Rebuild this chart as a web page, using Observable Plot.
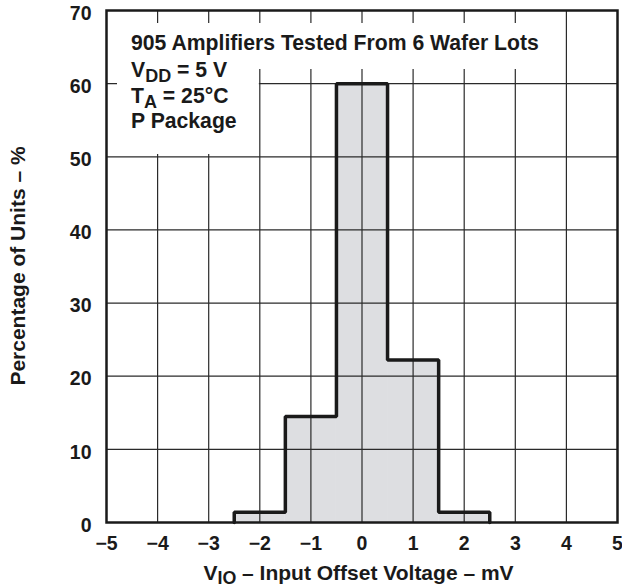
<!DOCTYPE html>
<html><head><meta charset="utf-8">
<script src="https://cdn.jsdelivr.net/npm/d3@7"></script>
<script src="https://cdn.jsdelivr.net/npm/@observablehq/plot@0.6"></script>
<style>body{margin:0;background:#fff} svg{display:block}</style>
</head><body><div id="chart"></div>
<script>
// ---- data ----
const binEdges = [-2.5, -1.5, -0.5, 0.5, 1.5, 2.5];
const percentUnits = [1.4, 14.5, 60, 22.2, 1.4];
const xTicks = [-5, -4, -3, -2, -1, 0, 1, 2, 3, 4, 5];
const yTicks = [0, 10, 20, 30, 40, 50, 60, 70];
const noteLines = [
  [{t: "905 Amplifiers Tested From 6 Wafer Lots"}],
  [{t: "V"}, {t: "DD", sub: true}, {t: " = 5 V"}],
  [{t: "T"}, {t: "A", sub: true}, {t: " = 25°C"}],
  [{t: "P Package"}]
];
const xLabel = [{t: "V"}, {t: "IO", sub: true}, {t: " – Input Offset Voltage – mV"}];
const yLabel = "Percentage of Units – %";

// ---- derived tables ----
const bins = percentUnits.map((p, i) => ({x1: binEdges[i], x2: binEdges[i + 1], y: p}));
const outline = [{x: binEdges[0], y: 0}, ...bins.map(b => ({x: b.x1, y: b.y})), {x: binEdges[binEdges.length - 1], y: 0}];

const FONT = "'Liberation Sans', Arial, Helvetica, sans-serif";
const INK = "#1a1a1a";
const fmt = d => d < 0 ? "\u2212" + Math.abs(d) : String(d);

const chart = Plot.plot({
  width: 622, height: 587,
  marginLeft: 106, marginRight: 5, marginTop: 10, marginBottom: 65,
  style: {fontFamily: FONT, fontSize: "19.5px", fontWeight: "bold", color: INK, background: "#fff"},
  x: {domain: [-5, 5]},
  y: {domain: [0, 70]},
  marks: [
    Plot.rectY(bins, {x1: "x1", x2: "x2", y: "y", fill: "#dddee1"}),
    Plot.ruleX(xTicks.slice(1, -1), {stroke: "#2a2a2a", strokeWidth: 1.2}),
    Plot.ruleY(yTicks.slice(1, -1), {stroke: "#2a2a2a", strokeWidth: 1.2}),
    Plot.line(outline, {x: "x", y: "y", curve: "step-after", stroke: INK, strokeWidth: 3.5, strokeLinejoin: "miter"}),
    Plot.frame({stroke: INK, strokeWidth: 2.5}),
    Plot.axisX(xTicks, {tickSize: 0, tickPadding: 14, label: null, tickFormat: fmt, fill: INK}),
    Plot.axisY(yTicks, {tickSize: 0, tickPadding: 15, label: null, tickFormat: fmt, dy: 3, fill: INK})
  ]
});
document.getElementById("chart").appendChild(chart);

const svg = d3.select(chart);
const sx = chart.scale("x"), sy = chart.scale("y");

function writeRich(textSel, parts, shift) {
  parts.forEach(p => {
    const ts = textSel.append("tspan").text(p.t);
    if (p.sub) ts.attr("font-size", "0.85em").attr("baseline-shift", -shift);
  });
}

// ---- annotation box ----
const g = svg.append("g").attr("font-family", FONT).attr("font-weight", "bold")
  .attr("font-size", 21.2).attr("fill", INK).attr("text-anchor", "start");
const noteLeft = sx.apply(-5) + 25;
const noteTop = sy.apply(70);
const baseOffsets = [40, 67, 93, 118];
const texts = noteLines.map((parts, i) => {
  const t = g.append("text").attr("x", noteLeft).attr("y", noteTop + baseOffsets[i]);
  writeRich(t, parts, 5);
  return t;
});
const b1 = texts[0].node().getBBox();
const bb = texts.slice(1).map(t => t.node().getBBox());
const b2 = {
  x: Math.min(...bb.map(b => b.x)), y: Math.min(...bb.map(b => b.y)),
  r: Math.max(...bb.map(b => b.x + b.width)), bt: Math.max(...bb.map(b => b.y + b.height))
};
const box1Bottom = b1.y + b1.height + 14;
g.insert("rect", "text").attr("x", b1.x - 14).attr("y", b1.y - 8)
  .attr("width", b1.width + 22).attr("height", box1Bottom - (b1.y - 8)).attr("fill", "#fff");
g.insert("rect", "text").attr("x", b2.x - 14).attr("y", box1Bottom - 1)
  .attr("width", b2.r - b2.x + 36).attr("height", b2.bt + 22 - box1Bottom).attr("fill", "#fff");

// ---- axis labels ----
const xl = svg.append("text").attr("x", (sx.apply(-5) + sx.apply(5)) / 2 - 3).attr("y", 580)
  .attr("text-anchor", "middle").attr("font-family", FONT).attr("font-weight", "bold")
  .attr("font-size", 21).attr("fill", INK);
writeRich(xl, xLabel, 4);
svg.append("text").attr("transform", `translate(25,${(sy.apply(0) + sy.apply(70)) / 2}) rotate(-90)`)
  .attr("text-anchor", "middle").attr("font-family", FONT).attr("font-weight", "bold")
  .attr("font-size", 21).attr("fill", INK).text(yLabel);
</script>
</body></html>
